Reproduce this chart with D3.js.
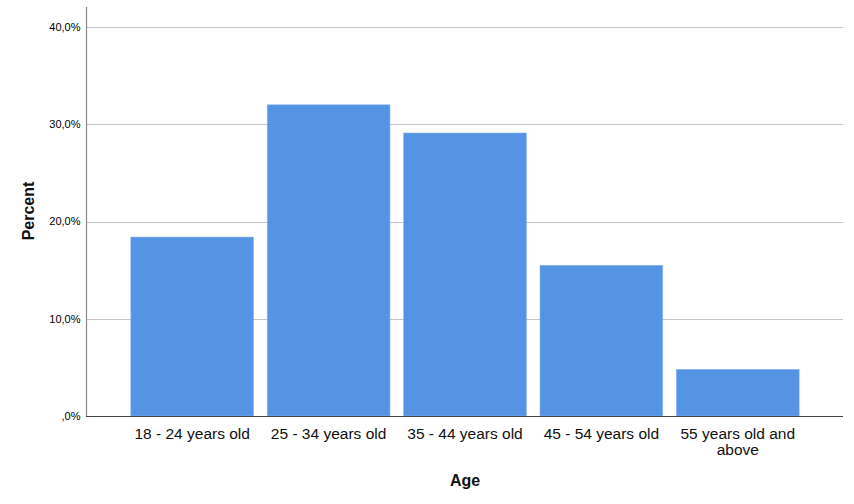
<!DOCTYPE html>
<html>
<head>
<meta charset="utf-8">
<script src="https://cdn.jsdelivr.net/npm/d3@7"></script>
<style>
  body { margin: 0; background: #fff; }
  text { font-family: Arial, "Liberation Sans", sans-serif; }
</style>
</head>
<body>
<script>
// categories and values
const ageGroups = ["18 - 24 years old", "25 - 34 years old", "35 - 44 years old", "45 - 54 years old", "55 years old and above"];
const percents = [18.4, 32.0, 29.1, 15.5, 4.8];
const yTicks = [0, 10, 20, 30, 40];

const width = 854, height = 504;
const plot = { left: 86, right: 843, top: 7, bottom: 416 };

const svg = d3.select("body").append("svg").attr("width", width).attr("height", height);

const x = d3.scaleBand()
  .domain(ageGroups)
  .range([124, 806])
  .paddingInner(0.1)
  .paddingOuter(0.05);

const y = d3.scaleLinear().domain([0, 40]).range([plot.bottom, 27]);

const fmt = (v) => (v === 0 ? ",0%" : v.toFixed(1).replace(".", ",") + "%");

// gridlines
svg.append("g")
  .selectAll("line")
  .data(yTicks.filter((t) => t > 0))
  .join("line")
  .attr("x1", plot.left)
  .attr("x2", plot.right)
  .attr("y1", (d) => Math.round(y(d)) + 0.5)
  .attr("y2", (d) => Math.round(y(d)) + 0.5)
  .attr("stroke", "#c4c4c4")
  .attr("stroke-width", 1);

// bars
svg.append("g")
  .selectAll("rect")
  .data(ageGroups)
  .join("rect")
  .attr("x", (d) => x(d))
  .attr("y", (d, i) => y(percents[i]))
  .attr("width", x.bandwidth())
  .attr("height", (d, i) => y(0) - y(percents[i]))
  .attr("fill", "#5594e4")
  .attr("stroke", "#8ab6ee")
  .attr("stroke-width", 0.6);

// y axis
const yAxis = svg.append("g").attr("transform", `translate(${plot.left + 0.5},0)`);
yAxis.append("line")
  .attr("y1", plot.top)
  .attr("y2", plot.bottom)
  .attr("stroke", "#888")
  .attr("stroke-width", 1.2);
yAxis.selectAll("text")
  .data(yTicks)
  .join("text")
  .attr("x", -6)
  .attr("y", (d) => y(d))
  .attr("dy", "0.35em")
  .attr("text-anchor", "end")
  .attr("font-size", 11)
  .attr("fill", "#000")
  .text(fmt);

// x axis
svg.append("line")
  .attr("x1", plot.left)
  .attr("x2", plot.right)
  .attr("y1", plot.bottom + 0.5)
  .attr("y2", plot.bottom + 0.5)
  .attr("stroke", "#444")
  .attr("stroke-width", 1.2);

const xLabels = svg.append("g")
  .selectAll("text")
  .data(ageGroups)
  .join("text")
  .attr("x", (d) => x(d) + x.bandwidth() / 2)
  .attr("y", 439)
  .attr("text-anchor", "middle")
  .attr("font-size", 15.5)
  .attr("fill", "#111");

xLabels.each(function (d) {
  const lines = d === "55 years old and above" ? ["55 years old and", "above"] : [d];
  const t = d3.select(this);
  lines.forEach((l, i) => {
    t.append("tspan")
      .attr("x", x(d) + x.bandwidth() / 2)
      .attr("dy", i === 0 ? 0 : 16)
      .text(l);
  });
});

// axis titles
svg.append("text")
  .attr("transform", `translate(34, 211) rotate(-90)`)
  .attr("text-anchor", "middle")
  .attr("font-size", 16)
  .attr("font-weight", "bold")
  .attr("fill", "#111")
  .text("Percent");

svg.append("text")
  .attr("x", 465)
  .attr("y", 486)
  .attr("text-anchor", "middle")
  .attr("font-size", 16)
  .attr("font-weight", "bold")
  .attr("fill", "#111")
  .text("Age");
</script>
</body>
</html>
